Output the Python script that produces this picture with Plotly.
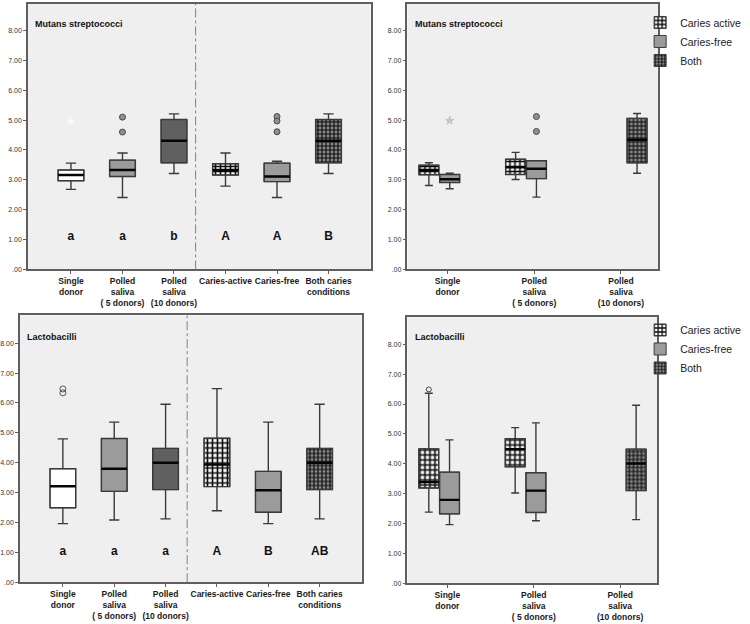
import plotly.graph_objects as go

W, H = 750, 624
FONT = "Liberation Sans, Arial, sans-serif"

# ---------------- data ----------------
LEFT_CATS = ["Single<br>donor", "Polled<br>saliva<br>( 5 donors)", "Polled<br>saliva<br>(10 donors)",
             "Caries-active", "Caries-free", "Both caries<br>conditions"]
RIGHT_CATS = ["Single<br>donor", "Polled<br>saliva<br>( 5 donors)", "Polled<br>saliva<br>(10 donors)"]
Y_TICKVALS = [0, 1, 2, 3, 4, 5, 6, 7, 8]
Y_TICKTEXT = [".00", "1.00", "2.00", "3.00", "4.00", "5.00", "6.00", "7.00", "8.00"]
SERIES_NAMES = ["Caries active", "Caries-free", "Both"]

# Mutans streptococci - left panel (one box per category)
MS_L_LO = [2.68, 2.41, 3.21, 2.79, 2.41, 3.21]
MS_L_Q1 = [2.97, 3.11, 3.57, 3.16, 2.94, 3.57]
MS_L_MED = [3.16, 3.33, 4.31, 3.33, 3.11, 4.31]
MS_L_Q3 = [3.33, 3.66, 5.02, 3.54, 3.56, 5.02]
MS_L_HI = [3.56, 3.90, 5.21, 3.90, 3.62, 5.21]
MS_L_LETTERS = ["a", "a", "b", "A", "A", "B"]
MS_L_OUT_CAT = [1, 1, 4, 4, 4]
MS_L_OUT_VAL = [5.10, 4.60, 5.12, 4.97, 4.61]
MS_L_STAR_CAT = [0]
MS_L_STAR_VAL = [4.97]

# Mutans streptococci - right panel (clusters x series)
MS_R_CLUSTER = [[0, 1], [0, 1], [2]]
MS_R_LO = [[2.81, 3.01], [2.70, 2.42], [3.22]]
MS_R_Q1 = [[3.17, 3.18], [2.91, 3.04], [3.57]]
MS_R_MED = [[3.33, 3.42], [3.02, 3.37], [4.34]]
MS_R_Q3 = [[3.49, 3.69], [3.18, 3.64], [5.06]]
MS_R_HI = [[3.57, 3.92], [3.22, 3.64], [5.22]]
MS_R_OUT_CLUSTER = [1, 1]
MS_R_OUT_SERIES = [1, 1]
MS_R_OUT_VAL = [5.12, 4.62]
MS_R_STAR_CLUSTER = [0]
MS_R_STAR_SERIES = [1]
MS_R_STAR_VAL = [4.98]

# Lactobacilli - left panel
LB_L_LO = [1.96, 2.08, 2.12, 2.39, 1.96, 2.12]
LB_L_Q1 = [2.49, 3.04, 3.10, 3.20, 2.34, 3.10]
LB_L_MED = [3.21, 3.80, 4.00, 3.94, 3.08, 4.00]
LB_L_Q3 = [3.80, 4.81, 4.48, 4.82, 3.71, 4.48]
LB_L_HI = [4.80, 5.36, 5.96, 6.48, 5.36, 5.96]
LB_L_LETTERS = ["a", "a", "a", "A", "B", "AB"]
LB_L_OPEN_CAT = [0, 0]
LB_L_OPEN_VAL = [6.47, 6.34]

# Lactobacilli - right panel
LB_R_CLUSTER = [[0, 1], [0, 1], [2]]
LB_R_LO = [[2.38, 3.02], [1.96, 2.09], [2.13]]
LB_R_Q1 = [[3.19, 3.90], [2.32, 2.37], [3.10]]
LB_R_MED = [[3.39, 4.49], [2.79, 3.10], [4.01]]
LB_R_Q3 = [[4.50, 4.84], [3.72, 3.70], [4.49]]
LB_R_HI = [[6.36, 5.21], [4.80, 5.37], [5.96]]
LB_R_OPEN_CLUSTER = [0]
LB_R_OPEN_SERIES = [0]
LB_R_OPEN_VAL = [6.49]

# ---------------- styles ----------------
PLOT_BG = "#efefef"
EDGE = "#3a3a3a"
FRAME = "#5f5f5f"
STYLE = {
    "white": dict(color="#ffffff", shape=""),
    "mid": dict(color="#9b9b9b", shape=""),
    "dark": dict(color="#606060", shape=""),
    "active": dict(color="#ffffff", shape="+", fg="#0a0a0a", bg="#ffffff", size=5, sol=0.55),
    "both": dict(color="#6a6a6a", shape="+", fg="#0a0a0a", bg="#8a8a8a", size=4, sol=0.5),
}
LEFT_STYLE = ["white", "mid", "dark", "active", "mid", "both"]
RIGHT_STYLE = ["active", "mid", "both"]
RIGHT_OFFSET = [-0.215, 0.025, 0.185]
LEFT_BOX_W = 0.5
RIGHT_BOX_W = 0.23
LETTER_Y = {"top": 1.1, "bottom": 1.02}
LEFT_SEP = 2.42

fig = go.Figure()


def marker_for(style_key):
    st = STYLE[style_key]
    m = dict(color=st["color"], line=dict(color=EDGE, width=1))
    if st["shape"]:
        m["pattern"] = dict(shape=st["shape"], fgcolor=st["fg"], bgcolor=st["bg"],
                            size=st["size"], solidity=st["sol"], fillmode="replace")
    return m


def add_box_group(xs, lo, q1, med, q3, hi, styles, width, ax, name=None, legend=None, showlegend=False):
    xa, ya = ax
    # box fills (one bar trace per fill style)
    for key in dict.fromkeys(styles):
        idx = [i for i, s in enumerate(styles) if s == key]
        fig.add_trace(go.Bar(
            x=[xs[i] for i in idx], base=[q1[i] for i in idx],
            y=[q3[i] - q1[i] for i in idx], width=width, marker=marker_for(key),
            xaxis=xa, yaxis=ya, name=name, showlegend=showlegend, legend=legend,
            hoverinfo="skip"))
    # outlines + whiskers
    fig.add_trace(go.Box(
        x=xs, q1=q1, median=med, q3=q3, lowerfence=lo, upperfence=hi, width=width,
        whiskerwidth=0.4, fillcolor="rgba(0,0,0,0)", line=dict(color=EDGE, width=1.4),
        boxpoints=False, showlegend=False, hoverinfo="skip", xaxis=xa, yaxis=ya))
    # thick median bars
    mx, my = [], []
    for x, m in zip(xs, med):
        mx += [x - width / 2, x + width / 2, None]
        my += [m, m, None]
    fig.add_trace(go.Scatter(x=mx, y=my, mode="lines", line=dict(color="#050505", width=2.4),
                             showlegend=False, hoverinfo="skip", xaxis=xa, yaxis=ya))


def add_points(xs, ys, symbol, color, line_color, size, ax):
    xa, ya = ax
    fig.add_trace(go.Scatter(x=xs, y=ys, mode="markers",
                             marker=dict(symbol=symbol, size=size, color=color,
                                         line=dict(color=line_color, width=1)),
                             showlegend=False, hoverinfo="skip", xaxis=xa, yaxis=ya))


def add_letters(letters, level, ax):
    xa, ya = ax
    fig.add_trace(go.Scatter(x=list(range(len(letters))), y=[level] * len(letters), mode="text",
                             text=letters, textposition="middle center",
                             textfont=dict(family=FONT, size=12, color="#111111", weight="bold"),
                             showlegend=False, hoverinfo="skip", xaxis=xa, yaxis=ya))


def left_panel(lo, q1, med, q3, hi, letters, level, ax):
    xs = list(range(len(lo)))
    add_box_group(xs, lo, q1, med, q3, hi, LEFT_STYLE, LEFT_BOX_W, ax)
    add_letters(letters, level, ax)


def right_panel(clusters, lo, q1, med, q3, hi, ax, legend):
    for s in range(len(SERIES_NAMES)):
        xs = [c + RIGHT_OFFSET[s] for c in clusters[s]]
        add_box_group(xs, lo[s], q1[s], med[s], q3[s], hi[s], [RIGHT_STYLE[s]] * len(xs),
                      RIGHT_BOX_W, ax, name=SERIES_NAMES[s], legend=legend, showlegend=True)


TL, TR, BL, BR = ("x", "y"), ("x2", "y2"), ("x3", "y3"), ("x4", "y4")

# Top-left
left_panel(MS_L_LO, MS_L_Q1, MS_L_MED, MS_L_Q3, MS_L_HI, MS_L_LETTERS, LETTER_Y["top"], TL)
add_points(MS_L_OUT_CAT, MS_L_OUT_VAL, "circle", "#8f8f8f", "#4a4a4a", 6, TL)
add_points(MS_L_STAR_CAT, MS_L_STAR_VAL, "star", "#fbfbfb", "#f4f4f4", 7, TL)

# Top-right
right_panel(MS_R_CLUSTER, MS_R_LO, MS_R_Q1, MS_R_MED, MS_R_Q3, MS_R_HI, TR, "legend")
add_points([c + RIGHT_OFFSET[s] for c, s in zip(MS_R_OUT_CLUSTER, MS_R_OUT_SERIES)], MS_R_OUT_VAL,
           "circle", "#8f8f8f", "#4a4a4a", 6, TR)
add_points([c + RIGHT_OFFSET[s] for c, s in zip(MS_R_STAR_CLUSTER, MS_R_STAR_SERIES)], MS_R_STAR_VAL,
           "star", "#c8c8c8", "#c0c0c0", 6, TR)

# Bottom-left
left_panel(LB_L_LO, LB_L_Q1, LB_L_MED, LB_L_Q3, LB_L_HI, LB_L_LETTERS, LETTER_Y["bottom"], BL)
add_points(LB_L_OPEN_CAT, LB_L_OPEN_VAL, "circle-open", "#555555", "#555555", 6, BL)

# Bottom-right
right_panel(LB_R_CLUSTER, LB_R_LO, LB_R_Q1, LB_R_MED, LB_R_Q3, LB_R_HI, BR, "legend2")
add_points([c + RIGHT_OFFSET[s] for c, s in zip(LB_R_OPEN_CLUSTER, LB_R_OPEN_SERIES)], LB_R_OPEN_VAL,
           "circle-open", "#444444", "#444444", 5, BR)


def px_dom_x(a, b):
    return [a / W, b / W]


def px_dom_y(top, bottom):
    return [1 - bottom / H, 1 - top / H]


def xaxis(dom, rng, tickvals, ticktext, anchor):
    return dict(domain=dom, range=rng, tickvals=tickvals, ticktext=ticktext, anchor=anchor,
                showline=True, mirror=True, linecolor=FRAME, linewidth=1.5, tickangle=0,
                ticks="outside", ticklen=3, tickcolor=FRAME, showgrid=False, zeroline=False,
                tickfont=dict(family=FONT, size=8.5, color="#1a1a1a", weight="bold"), fixedrange=True)


def yaxis(dom, rng, anchor):
    return dict(domain=dom, range=rng, tickvals=Y_TICKVALS, ticktext=Y_TICKTEXT, anchor=anchor,
                showline=True, mirror=True, linecolor=FRAME, linewidth=1.5,
                ticks="outside", ticklen=3, tickcolor=FRAME, showgrid=False, zeroline=False,
                tickfont=dict(family=FONT, size=7, color="#333333"), fixedrange=True)


left_ticks = list(range(len(LEFT_CATS)))
right_ticks = list(range(len(RIGHT_CATS)))

LEGEND_COMMON = dict(xanchor="left", yanchor="top", bgcolor="rgba(0,0,0,0)",
                     font=dict(family=FONT, size=10.5, color="#222222"), tracegroupgap=0,
                     itemwidth=30, traceorder="normal")

TITLE_FONT = dict(family=FONT, size=9, color="#111111", weight="bold")

layout = dict(
    width=W, height=H, autosize=False, margin=dict(l=0, r=0, t=0, b=0),
    paper_bgcolor="white", plot_bgcolor=PLOT_BG,
    barmode="overlay", boxmode="overlay",
    font=dict(family=FONT, color="#222222"),
    xaxis=xaxis(px_dom_x(27, 370), [-0.835, 5.815], left_ticks, LEFT_CATS, "y"),
    yaxis=yaxis(px_dom_y(4, 270.7), [0, 8.89], "x"),
    xaxis2=xaxis(px_dom_x(407, 658), [-0.462, 2.428], right_ticks, RIGHT_CATS, "y2"),
    yaxis2=yaxis(px_dom_y(4, 270.7), [0, 8.89], "x2"),
    xaxis3=xaxis(px_dom_x(19, 361), [-0.835, 5.815], left_ticks, LEFT_CATS, "y3"),
    yaxis3=yaxis(px_dom_y(317, 585), [0, 8.93], "x3"),
    xaxis4=xaxis(px_dom_x(407, 657), [-0.462, 2.428], right_ticks, RIGHT_CATS, "y4"),
    yaxis4=yaxis(px_dom_y(319, 586), [0, 8.9], "x4"),
    legend=dict(x=640 / W, y=1 - 8 / H, **LEGEND_COMMON),
    legend2=dict(x=640 / W, y=1 - 317 / H, **LEGEND_COMMON),
    shapes=[
        dict(type="line", xref="x", yref="y domain", x0=LEFT_SEP, x1=LEFT_SEP, y0=0, y1=1,
             line=dict(color="#808080", width=1, dash="dashdot")),
        dict(type="line", xref="x3", yref="y3 domain", x0=LEFT_SEP, x1=LEFT_SEP, y0=0, y1=1,
             line=dict(color="#808080", width=1, dash="dashdot")),
    ],
    annotations=[
        dict(text="Mutans streptococci", xref="x domain", yref="y domain", x=0.015, y=0.925,
             xanchor="left", yanchor="middle", showarrow=False, font=TITLE_FONT),
        dict(text="Mutans streptococci", xref="x2 domain", yref="y2 domain", x=0.022, y=0.925,
             xanchor="left", yanchor="middle", showarrow=False, font=TITLE_FONT),
        dict(text="Lactobacilli", xref="x3 domain", yref="y3 domain", x=0.015, y=0.92,
             xanchor="left", yanchor="middle", showarrow=False, font=TITLE_FONT),
        dict(text="Lactobacilli", xref="x4 domain", yref="y4 domain", x=0.022, y=0.925,
             xanchor="left", yanchor="middle", showarrow=False, font=TITLE_FONT),
    ],
)
fig.update_layout(**layout)
# remove the browser's default 8px page margin so the 750x624 figure fills the window exactly
fig.write_html("out.html", config={"displayModeBar": False},
               post_script="document.body.style.margin='0px';")
